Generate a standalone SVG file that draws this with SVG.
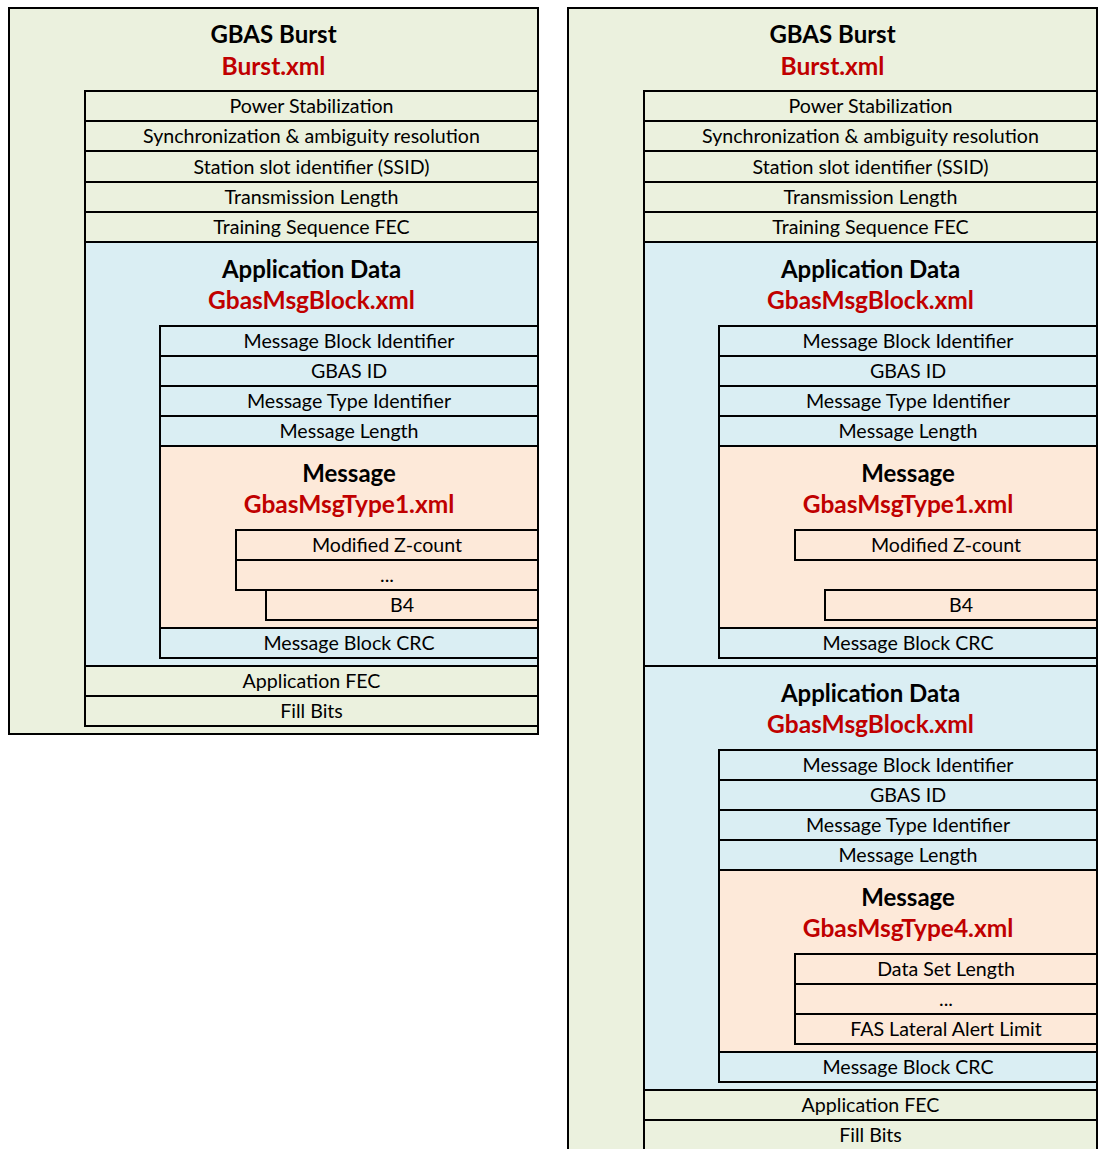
<svg xmlns="http://www.w3.org/2000/svg" width="1103" height="1149" viewBox="0 0 1103 1149">
<style>
rect{stroke:#000;stroke-width:2}
.g{fill:#EBF1DE}
.b{fill:#DAEEF3}
.o{fill:#FDE9D9}
text{font-family:Lato,"Open Sans","Liberation Sans",sans-serif;text-anchor:middle}
.t{font-size:19.6px;fill:#000}
.h{font-size:24px;font-weight:bold;fill:#000}
.r{font-size:24.5px;font-weight:bold;fill:#C00000}
</style>
<rect width="1103" height="1149" fill="#fff" style="stroke:none"/>

<!-- LEFT -->
<g id="left-burst">
<rect class="g" x="9" y="8" width="529" height="726"/>
<text class="h" x="273.5" y="43">GBAS Burst</text>
<text class="r" x="273.5" y="75">Burst.xml</text>
</g>
<g id="left-power"><rect class="g" x="85" y="91" width="453" height="30"/><text class="t" x="311.5" y="113">Power Stabilization</text></g>
<g id="left-sync"><rect class="g" x="85" y="121" width="453" height="30"/><text class="t" x="311.5" y="143">Synchronization &amp; ambiguity resolution</text></g>
<g id="left-ssid"><rect class="g" x="85" y="151" width="453" height="31"/><text class="t" x="311.5" y="173.5">Station slot identifier (SSID)</text></g>
<g id="left-tlen"><rect class="g" x="85" y="182" width="453" height="30"/><text class="t" x="311.5" y="204">Transmission Length</text></g>
<g id="left-tfec"><rect class="g" x="85" y="212" width="453" height="30"/><text class="t" x="311.5" y="234">Training Sequence FEC</text></g>
<g id="left-appdata">
<rect class="b" x="85" y="242" width="453" height="424"/>
<text class="h" x="311.5" y="278">Application Data</text>
<text class="r" x="311.5" y="309">GbasMsgBlock.xml</text>
</g>
<g id="left-mbi"><rect class="b" x="160" y="326" width="378" height="30"/><text class="t" x="349" y="348">Message Block Identifier</text></g>
<g id="left-gbasid"><rect class="b" x="160" y="356" width="378" height="30"/><text class="t" x="349" y="378">GBAS ID</text></g>
<g id="left-mti"><rect class="b" x="160" y="386" width="378" height="30"/><text class="t" x="349" y="408">Message Type Identifier</text></g>
<g id="left-mlen"><rect class="b" x="160" y="416" width="378" height="30"/><text class="t" x="349" y="438">Message Length</text></g>
<g id="left-message">
<rect class="o" x="160" y="446" width="378" height="182"/>
<text class="h" x="349" y="482">Message</text>
<text class="r" x="349" y="513">GbasMsgType1.xml</text>
</g>
<g id="left-zcount"><rect class="o" x="236" y="530" width="302" height="30"/><text class="t" x="387" y="552">Modified Z-count</text></g>
<g id="left-dots"><rect class="o" x="236" y="560" width="302" height="30"/><text class="t" x="387" y="582">...</text></g>
<g id="left-b4"><rect class="o" x="266" y="590" width="272" height="30"/><text class="t" x="402" y="612">B4</text></g>
<g id="left-crc"><rect class="b" x="160" y="628" width="378" height="30"/><text class="t" x="349" y="650">Message Block CRC</text></g>
<g id="left-appfec"><rect class="g" x="85" y="666" width="453" height="30"/><text class="t" x="311.5" y="688">Application FEC</text></g>
<g id="left-fill"><rect class="g" x="85" y="696" width="453" height="30"/><text class="t" x="311.5" y="718">Fill Bits</text></g>

<!-- RIGHT -->
<g id="right-burst">
<rect class="g" x="568" y="8" width="529" height="1160"/>
<text class="h" x="832.5" y="43">GBAS Burst</text>
<text class="r" x="832.5" y="75">Burst.xml</text>
</g>
<g id="right-power"><rect class="g" x="644" y="91" width="453" height="30"/><text class="t" x="870.5" y="113">Power Stabilization</text></g>
<g id="right-sync"><rect class="g" x="644" y="121" width="453" height="30"/><text class="t" x="870.5" y="143">Synchronization &amp; ambiguity resolution</text></g>
<g id="right-ssid"><rect class="g" x="644" y="151" width="453" height="31"/><text class="t" x="870.5" y="173.5">Station slot identifier (SSID)</text></g>
<g id="right-tlen"><rect class="g" x="644" y="182" width="453" height="30"/><text class="t" x="870.5" y="204">Transmission Length</text></g>
<g id="right-tfec"><rect class="g" x="644" y="212" width="453" height="30"/><text class="t" x="870.5" y="234">Training Sequence FEC</text></g>

<g id="right-appdata1">
<rect class="b" x="644" y="242" width="453" height="424"/>
<text class="h" x="870.5" y="278">Application Data</text>
<text class="r" x="870.5" y="309">GbasMsgBlock.xml</text>
</g>
<g id="right-mbi1"><rect class="b" x="719" y="326" width="378" height="30"/><text class="t" x="908" y="348">Message Block Identifier</text></g>
<g id="right-gbasid1"><rect class="b" x="719" y="356" width="378" height="30"/><text class="t" x="908" y="378">GBAS ID</text></g>
<g id="right-mti1"><rect class="b" x="719" y="386" width="378" height="30"/><text class="t" x="908" y="408">Message Type Identifier</text></g>
<g id="right-mlen1"><rect class="b" x="719" y="416" width="378" height="30"/><text class="t" x="908" y="438">Message Length</text></g>
<g id="right-message1">
<rect class="o" x="719" y="446" width="378" height="182"/>
<text class="h" x="908" y="482">Message</text>
<text class="r" x="908" y="513">GbasMsgType1.xml</text>
</g>
<g id="right-zcount"><rect class="o" x="795" y="530" width="302" height="30"/><text class="t" x="946" y="552">Modified Z-count</text></g>
<g id="right-b4"><rect class="o" x="825" y="590" width="272" height="30"/><text class="t" x="961" y="612">B4</text></g>
<g id="right-crc1"><rect class="b" x="719" y="628" width="378" height="30"/><text class="t" x="908" y="650">Message Block CRC</text></g>

<g id="right-appdata2">
<rect class="b" x="644" y="666" width="453" height="424"/>
<text class="h" x="870.5" y="702">Application Data</text>
<text class="r" x="870.5" y="733">GbasMsgBlock.xml</text>
</g>
<g id="right-mbi2"><rect class="b" x="719" y="750" width="378" height="30"/><text class="t" x="908" y="772">Message Block Identifier</text></g>
<g id="right-gbasid2"><rect class="b" x="719" y="780" width="378" height="30"/><text class="t" x="908" y="802">GBAS ID</text></g>
<g id="right-mti2"><rect class="b" x="719" y="810" width="378" height="30"/><text class="t" x="908" y="832">Message Type Identifier</text></g>
<g id="right-mlen2"><rect class="b" x="719" y="840" width="378" height="30"/><text class="t" x="908" y="862">Message Length</text></g>
<g id="right-message2">
<rect class="o" x="719" y="870" width="378" height="182"/>
<text class="h" x="908" y="906">Message</text>
<text class="r" x="908" y="937">GbasMsgType4.xml</text>
</g>
<g id="right-dsl"><rect class="o" x="795" y="954" width="302" height="30"/><text class="t" x="946" y="976">Data Set Length</text></g>
<g id="right-dots2"><rect class="o" x="795" y="984" width="302" height="30"/><text class="t" x="946" y="1006">...</text></g>
<g id="right-fas"><rect class="o" x="795" y="1014" width="302" height="30"/><text class="t" x="946" y="1036">FAS Lateral Alert Limit</text></g>
<g id="right-crc2"><rect class="b" x="719" y="1052" width="378" height="30"/><text class="t" x="908" y="1074">Message Block CRC</text></g>
<g id="right-appfec"><rect class="g" x="644" y="1090" width="453" height="30"/><text class="t" x="870.5" y="1112">Application FEC</text></g>
<g id="right-fill"><rect class="g" x="644" y="1120" width="453" height="30"/><text class="t" x="870.5" y="1142">Fill Bits</text></g>
</svg>
